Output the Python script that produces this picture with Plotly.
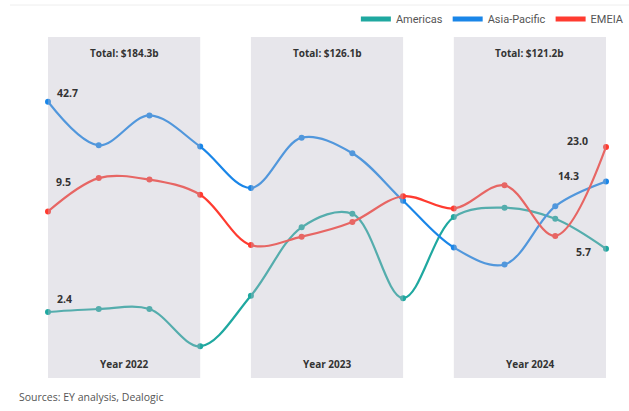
import math
import plotly.graph_objects as go

quarters = ["Q1 2022", "Q2 2022", "Q3 2022", "Q4 2022",
            "Q1 2023", "Q2 2023", "Q3 2023", "Q4 2023",
            "Q1 2024", "Q2 2024", "Q3 2024", "Q4 2024"]
americas = [2.4, 2.5, 2.5, 1.5, 3.0, 7.65, 9.2, 2.9, 8.8, 10.0, 8.6, 5.7]
asia_pacific = [42.7, 23.5, 35.4, 23.1, 13.1, 26.1, 21.1, 11.0, 5.8, 4.6, 10.2, 14.3]
emeia = [9.5, 15.0, 14.7, 11.95, 6.0, 6.73, 8.23, 11.7, 9.9, 13.6, 6.8, 23.0]
years = ["Year 2022", "Year 2023", "Year 2024"]
totals = ["Total: $184.3b", "Total: $126.1b", "Total: $121.2b"]

series = [("Americas", americas, "#1fa8a0"),
          ("Asia-Pacific", asia_pacific, "#1a86e8"),
          ("EMEIA", emeia, "#ff3b30")]

x = list(range(len(quarters)))
fig = go.Figure()
for name, vals, col in series:
    fig.add_trace(go.Scatter(
        x=x, y=vals, name=name, mode="lines+markers", showlegend=False,
        line=dict(color=col, width=2.2, shape="spline", smoothing=1),
        marker=dict(color=col, size=6),
        cliponaxis=False, hoverinfo="skip"))
for name, vals, col in series:
    fig.add_trace(go.Scatter(
        x=[None], y=[None], name=name, mode="lines",
        line=dict(color=col, width=5), hoverinfo="skip"))

shapes = []
annotations = []
for i, (yr, tot) in enumerate(zip(years, totals)):
    x0, x1 = 4 * i, 4 * i + 3
    shapes.append(dict(type="rect", xref="x", yref="paper", x0=x0, x1=x1, y0=0, y1=1,
                       fillcolor="#bab8c6", opacity=0.35, line=dict(width=0), layer="above"))
    annotations.append(dict(x=(x0 + x1) / 2, y=0.953, xref="x", yref="paper", text="<b>" + tot + "</b>",
                            showarrow=False, yanchor="middle",
                            font=dict(size=10, color="#333333", family="Open Sans")))
    annotations.append(dict(x=(x0 + x1) / 2, y=0.040, xref="x", yref="paper", text="<b>" + yr + "</b>",
                            showarrow=False, yanchor="middle",
                            font=dict(size=10, color="#333333", family="Open Sans")))

lab_font = dict(size=10.5, color="#333333", family="Open Sans")
L = math.log10
# start labels (value, xshift, yshift)
start_labels = [(asia_pacific[0], 7, 9), (emeia[0], 6, 29), (americas[0], 7, 13)]
for v, xs, ys in start_labels:
    annotations.append(dict(x=0, y=L(v), xref="x", yref="y", text="<b>%.1f</b>" % v,
                            showarrow=False, xanchor="left", yanchor="middle",
                            xshift=xs, yshift=ys, font=lab_font))
end_labels = [(emeia[-1], -16, 6), (asia_pacific[-1], -25, 6), (americas[-1], -13, -3)]
for v, xs, ys in end_labels:
    annotations.append(dict(x=11, y=L(v), xref="x", yref="y", text="<b>%.1f</b>" % v,
                            showarrow=False, xanchor="right", yanchor="middle",
                            xshift=xs, yshift=ys, font=lab_font))
annotations.append(dict(x=-31 / 558, y=-0.055, xref="paper", yref="paper", xanchor="left", yanchor="middle",
                        text="Sources: EY analysis, Dealogic", showarrow=False,
                        font=dict(size=10.5, color="#555555", family="Open Sans")))

shapes.append(dict(type="line", xref="paper", yref="paper", x0=-38 / 558, x1=581 / 558,
                   y0=1 + 32 / 341, y1=1 + 32 / 341, line=dict(color="#eeeeee", width=1)))

fig.update_layout(
    width=629, height=411,
    margin=dict(l=48, r=23, t=37, b=33, autoexpand=False),
    paper_bgcolor="white", plot_bgcolor="white",
    xaxis=dict(range=[0, 11], visible=False, fixedrange=True),
    yaxis=dict(type="log", range=[-0.0123, 2.0151], visible=False, fixedrange=True),
    showlegend=True,
    legend=dict(orientation="h", x=1.041, xanchor="right", y=1.053, yanchor="middle",
                font=dict(size=11, color="#555555", family="Roboto"),
                itemwidth=30, tracegroupgap=0, bgcolor="rgba(0,0,0,0)"),
    shapes=shapes, annotations=annotations,
)
fig.write_html("out.html", config={"displayModeBar": False},
               post_script="document.body.style.margin='0';document.body.style.overflow='hidden';")
